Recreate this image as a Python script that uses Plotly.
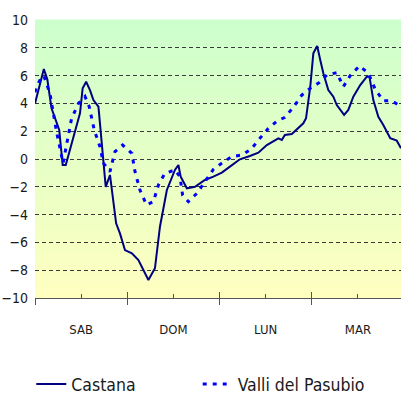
import plotly.graph_objects as go

# Hourly temperature (°C) over four days, hours counted from Saturday 00:00
castana_h = [0, 2.3, 3.2, 4.3, 6.3, 7.2, 8.0, 9.1, 11.7, 12.4, 13.3, 14.3, 15.2, 16.5,
             18.4, 19.5, 21.1, 22.1, 23.4, 25.2, 26.9, 29.5, 31.2, 32.5, 34.3, 36.4,
             37.3, 37.9, 39.5, 41.6, 44.2, 46.4, 48.6, 50.7, 53.3, 55.9, 58.1, 60.3,
             63.3, 64.2, 65.0, 66.8, 68.5, 69.8, 70.5, 71.6, 72.4, 73.4, 74.2, 75.0,
             76.3, 77.6, 78.5, 80.4, 81.5, 82.8, 84.6, 86.3, 87.0, 88.0, 89.3, 90.6,
             92.4, 94.1, 95.2]
castana_t = [4.0, 6.47, 5.73, 3.65, 2.09, -0.43, -0.43, 0.65, 3.29, 5.09, 5.56, 4.96,
             4.24, 3.76, -2.0, -1.15, -4.63, -5.35, -6.55, -6.78, -7.27, -8.7, -7.86,
             -4.87, -2.23, -0.79, -0.43, -1.27, -2.11, -2.0, -1.51, -1.27, -0.98, -0.55,
             -0.02, 0.22, 0.45, 1.0, 1.49, 1.37, 1.73, 1.80, 2.2, 2.57, 2.93, 5.2, 7.6,
             8.13, 7.12, 6.17, 4.96, 4.48, 3.88, 3.17, 3.53, 4.48, 5.32, 5.92, 5.92,
             4.24, 3.04, 2.45, 1.49, 1.32, 0.77]

valli_h = [0, 0.4, 1.7, 2.3, 3.9, 5.6, 7.3, 8.7, 9.5, 11.3, 13.0, 14.1, 15.4, 16.9,
           17.8, 19.5, 20.8, 22.8, 25.2, 26.0, 27.3, 29.0, 30.8, 32.1, 33.8, 36.4,
           37.7, 38.4, 39.9, 42.1, 44.2, 46.4, 48.8, 51.2, 53.8, 56.2, 58.5, 60.7,
           62.9, 65.0, 67.1, 69.4, 71.6, 73.9, 75.9, 78.5, 80.2, 82.1, 84.4, 86.7,
           88.5, 90.6, 92.8, 95.0]
valli_t = [4.8, 5.2, 5.9, 6.0, 4.7, 1.96, -0.3, 1.6, 2.9, 4.0, 4.5, 3.76, 2.09, 0.88,
           -0.3, -0.9, 0.53, 1.0, 0.41, -0.9, -2.23, -3.3, -3.07, -1.87, -1.03, -0.79,
           -1.27, -2.6, -3.07, -2.47, -1.63, -0.74, -0.26, 0.17, 0.29, 0.7, 1.49, 2.2,
           2.72, 3.0, 3.69, 4.6, 5.09, 5.49, 6.04, 6.21, 5.2, 6.04, 6.69, 6.17, 5.01,
           4.19, 4.19, 3.81]

day_labels = ["SAB", "DOM", "LUN", "MAR"]
day_starts = [0, 24, 48, 72]
day_mids = [12, 36, 60, 84]

FONT = "DejaVu Sans Condensed, DejaVu Sans, sans-serif"
AXIS_COL = "#555555"
TEXT_COL = "#1a1a1a"

fig = go.Figure()
fig.add_trace(go.Scatter(x=castana_h, y=castana_t, mode="lines", name="Castana",
                         line=dict(color="#000080", width=2), legend="legend"))
fig.add_trace(go.Scatter(x=valli_h, y=valli_t, mode="lines", name="Valli del Pasubio",
                         line=dict(color="#0000FF", width=3, dash="4px,6px"),
                         legend="legend2"))

# vertical green-to-yellow gradient behind the plot area
top = (204, 255, 204)
bottom = (255, 255, 192)
n = 60
shapes = []
for i in range(n):
    f = (i + 0.5) / n
    c = tuple(round(bottom[k] + (top[k] - bottom[k]) * f) for k in range(3))
    shapes.append(dict(type="rect", xref="x domain", yref="y domain",
                       x0=0, x1=1, y0=i / n, y1=(i + 1) / n + 0.002,
                       fillcolor="rgb(%d,%d,%d)" % c, line=dict(width=0),
                       layer="below"))

legend_style = dict(orientation="h", xref="container", yref="container",
                    y=0.035, xanchor="left", yanchor="middle",
                    font=dict(size=17.5, family=FONT, color=TEXT_COL),
                    bgcolor="rgba(0,0,0,0)")

xr = [0, 95.2]
fig.update_layout(
    width=401, height=398,
    margin=dict(l=35, r=0, t=20, b=100),
    paper_bgcolor="white", plot_bgcolor="white",
    shapes=shapes,
    font=dict(family=FONT, color=TEXT_COL),
    xaxis=dict(range=xr, showgrid=False, zeroline=False, showline=True,
               linecolor=AXIS_COL, linewidth=1,
               tickvals=day_starts, ticks="outside", ticklen=6, tickcolor=AXIS_COL,
               showticklabels=False,
               minor=dict(tickvals=day_mids, ticks="inside", ticklen=4,
                          tickcolor=AXIS_COL)),
    xaxis2=dict(range=xr, overlaying="x", anchor="y", side="bottom",
                showgrid=False, zeroline=False, showline=False,
                tickvals=day_starts, ticks="inside", ticklen=6, tickcolor=AXIS_COL,
                showticklabels=False),
    xaxis3=dict(range=xr, overlaying="x", anchor="y", side="bottom",
                showgrid=False, zeroline=False, showline=False,
                tickvals=day_mids, ticktext=day_labels, ticks="",
                ticklabelstandoff=22, tickfont=dict(size=13, family=FONT, color=TEXT_COL)),
    yaxis=dict(range=[-10, 10], dtick=2, tick0=0, showgrid=True,
               gridcolor="#3a3a3a", gridwidth=1, griddash="4px,3px",
               zeroline=False, showline=False, ticks="",
               ticklabelstandoff=6, tickfont=dict(size=14, family=FONT, color=TEXT_COL)),
    legend=dict(x=0.078, **legend_style),
    legend2=dict(x=0.493, **legend_style),
)
# invisible helpers so the overlay axes get drawn
fig.add_trace(go.Scatter(x=[None], y=[None], xaxis="x2", showlegend=False, hoverinfo="skip"))
fig.add_trace(go.Scatter(x=[None], y=[None], xaxis="x3", showlegend=False, hoverinfo="skip"))

fig.write_html("out.html")
